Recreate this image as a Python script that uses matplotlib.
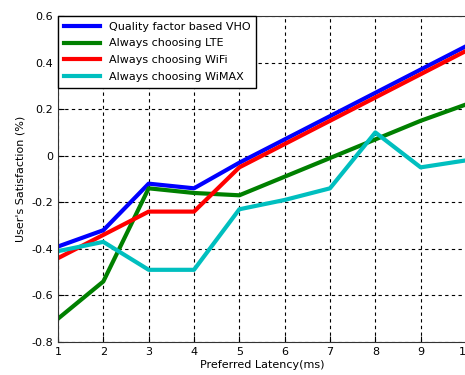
import matplotlib.pyplot as plt

latency = [1, 2, 3, 4, 5, 6, 7, 8, 9, 10]
vho = [-0.39, -0.32, -0.12, -0.14, -0.03, 0.07, 0.17, 0.27, 0.37, 0.47]
lte = [-0.70, -0.54, -0.14, -0.16, -0.17, -0.09, -0.01, 0.07, 0.15, 0.22]
wifi = [-0.44, -0.34, -0.24, -0.24, -0.05, 0.05, 0.15, 0.25, 0.35, 0.45]
wimax = [-0.41, -0.37, -0.49, -0.49, -0.23, -0.19, -0.14, 0.10, -0.05, -0.02]

fig = plt.figure(figsize=(4.65, 3.75), dpi=100)
ax = fig.add_axes([58 / 465, 33 / 375, 408 / 465, 326 / 375])

ax.plot(latency, vho, color='#0000ff', lw=3, label='Quality factor based VHO')
ax.plot(latency, lte, color='#008000', lw=3, label='Always choosing LTE')
ax.plot(latency, wifi, color='#ff0000', lw=3, label='Always choosing WiFi')
ax.plot(latency, wimax, color='#00bfbf', lw=3, label='Always choosing WiMAX')

ax.set_xlim(1, 10)
ax.set_ylim(-0.8, 0.6)
ax.set_xticks(latency)
ax.set_yticks([-0.8, -0.6, -0.4, -0.2, 0, 0.2, 0.4, 0.6])
ax.set_yticklabels(['-0.8', '-0.6', '-0.4', '-0.2', '0', '0.2', '0.4', '0.6'])
ax.tick_params(direction='in', labelsize=8, length=4)
ax.grid(True, color='black', linestyle=(0, (3, 3)), linewidth=0.8)

ax.set_xlabel('Preferred Latency(ms)', fontsize=8, labelpad=2)
ax.set_ylabel("User's Satisfaction (%)", fontsize=8, labelpad=4)

for s in ax.spines.values():
    s.set_color('#333333')

leg = ax.legend(loc='upper left', fontsize=8, fancybox=False, framealpha=1,
                edgecolor='black', borderaxespad=0, handlelength=3.3,
                labelspacing=0.62, borderpad=0.5)
leg.get_frame().set_linewidth(1)

fig.savefig('out.png', dpi=100)
